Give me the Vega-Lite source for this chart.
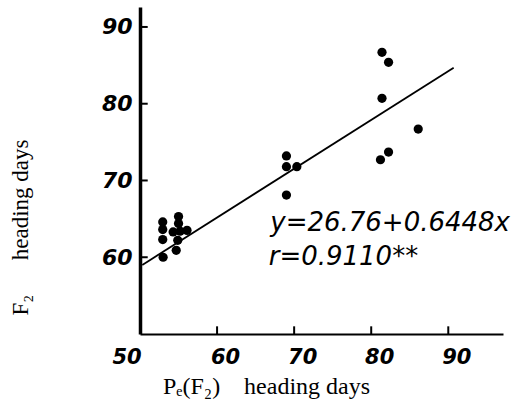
{
  "$schema": "https://vega.github.io/schema/vega-lite/v6.json",
  "autosize": "none",
  "width": 363,
  "height": 327,
  "padding": {"left": 140, "top": 7, "right": 11, "bottom": 77},
  "background": "white",
  "config": {"view": {"stroke": null}},
  "datasets": {
    "pts": [
      {"x": 52.95, "y": 64.6}, {"x": 52.95, "y": 63.6}, {"x": 52.95, "y": 62.3}, {"x": 53.0, "y": 60.0},
      {"x": 55.0, "y": 65.3}, {"x": 55.0, "y": 64.4}, {"x": 54.3, "y": 63.3}, {"x": 55.2, "y": 63.4},
      {"x": 56.1, "y": 63.5}, {"x": 54.9, "y": 62.2}, {"x": 54.7, "y": 60.9},
      {"x": 69.0, "y": 73.2}, {"x": 69.0, "y": 71.8}, {"x": 70.35, "y": 71.8}, {"x": 69.0, "y": 68.1},
      {"x": 81.4, "y": 86.7}, {"x": 82.25, "y": 85.4}, {"x": 81.4, "y": 80.7}, {"x": 86.1, "y": 76.7},
      {"x": 81.2, "y": 72.7}, {"x": 82.25, "y": 73.7}
    ],
    "fit": [{"x": 50.3, "y": 59.0}, {"x": 90.7, "y": 84.7}],
    "xticks": [{"x": 60, "y": 50, "y2": 51.0}, {"x": 70, "y": 50, "y2": 51.0}, {"x": 80, "y": 50, "y2": 51.0}, {"x": 90, "y": 50, "y2": 51.0}],
    "yticks": [{"y": 60, "x": 50, "x2": 51.0}, {"y": 70, "x": 50, "x2": 51.0}, {"y": 80, "x": 50, "x2": 51.0}, {"y": 90, "x": 50, "x2": 51.0}],
    "notes": [
      {"x": 66.9, "y": 64.5, "label": "y=26.76+0.6448x"},
      {"x": 66.7, "y": 60.0, "label": "r=0.9110**"}
    ]
  },
  "layer": [
    {
      "data": {"name": "pts"},
      "mark": {"type": "circle", "color": "black", "opacity": 1, "size": 85},
      "encoding": {
        "x": {
          "field": "x", "type": "quantitative",
          "scale": {"domain": [50, 97.1], "nice": false, "zero": false},
          "axis": {
            "values": [50, 60, 70, 80, 90],
            "title": "Pₑ(F₂)\u00a0\u00a0\u00a0\u00a0heading days",
            "titleFont": "Liberation Serif, DejaVu Serif, serif", "titleFontSize": 24, "titleFontWeight": "normal",
            "titleColor": "black", "titleX": 126, "titleY": 52, "titleBaseline": "middle",
            "domainColor": "black", "domainWidth": 2,
            "ticks": false,
            "labelFont": "DejaVu Sans", "labelFontStyle": "italic", "labelFontWeight": "bold",
            "labelFontSize": 21, "labelColor": "black", "labelPadding": 12,
            "labelOffset": {"condition": {"test": "datum.value == 50", "value": -28}, "value": 8},
            "grid": false
          }
        },
        "y": {
          "field": "y", "type": "quantitative",
          "scale": {"domain": [50, 92.6], "nice": false, "zero": false},
          "axis": {
            "values": [60, 70, 80, 90],
            "title": "F₂\u00a0\u00a0\u00a0\u00a0\u00a0\u00a0heading days",
            "titleFont": "Liberation Serif, DejaVu Serif, serif", "titleFontSize": 23, "titleFontWeight": "normal",
            "titleColor": "black", "titleX": -120, "titleY": 220, "titleAngle": -90,
            "titleBaseline": "middle", "titleAlign": "center",
            "domainColor": "black", "domainWidth": 3.5,
            "ticks": false,
            "labelFont": "DejaVu Sans", "labelFontStyle": "italic", "labelFontWeight": "bold",
            "labelFontSize": 22, "labelColor": "black", "labelPadding": 8,
            "grid": false
          }
        }
      }
    },
    {
      "data": {"name": "xticks"},
      "mark": {"type": "rule", "color": "black", "strokeWidth": 2},
      "encoding": {
        "x": {"field": "x", "type": "quantitative"},
        "y": {"field": "y", "type": "quantitative"},
        "y2": {"field": "y2"}
      }
    },
    {
      "data": {"name": "yticks"},
      "mark": {"type": "rule", "color": "black", "strokeWidth": 2},
      "encoding": {
        "y": {"field": "y", "type": "quantitative"},
        "x": {"field": "x", "type": "quantitative"},
        "x2": {"field": "x2"}
      }
    },
    {
      "data": {"name": "fit"},
      "mark": {"type": "line", "color": "black", "strokeWidth": 1.8},
      "encoding": {
        "x": {"field": "x", "type": "quantitative"},
        "y": {"field": "y", "type": "quantitative"}
      }
    },
    {
      "data": {"name": "notes"},
      "mark": {"type": "text", "align": "left", "baseline": "middle", "font": "DejaVu Sans", "fontStyle": "italic", "fontSize": 26, "color": "black"},
      "encoding": {
        "x": {"field": "x", "type": "quantitative"},
        "y": {"field": "y", "type": "quantitative"},
        "text": {"field": "label"}
      }
    }
  ]
}
